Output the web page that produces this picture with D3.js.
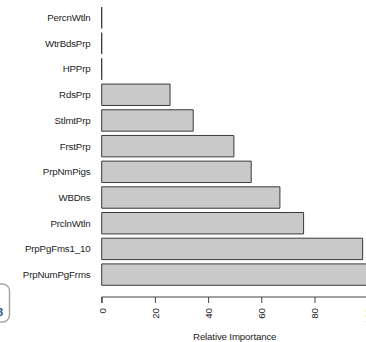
<!DOCTYPE html>
<html lang="en">

<head>
    <meta charset="UTF-8">
    <title>Relative Importance</title>
    <script src="https://cdn.jsdelivr.net/npm/d3@7"></script>
    <style>
        * {
            margin: 0;
        }

        body {
            background: #fff;
            overflow: hidden;
        }

        text {
            font-family: "Liberation Sans", Arial, sans-serif;
        }
    </style>
</head>

<body>
    <div id="chart"></div>
    <script>
        // variables, top to bottom as drawn
        var names = ["PercnWtln", "WtrBdsPrp", "HPPrp", "RdsPrp", "StlmtPrp", "FrstPrp",
            "PrpNmPigs", "WBDns", "PrclnWtln", "PrpPgFms1_10", "PrpNumPgFrms"];
        var importance = [0, 0, 0, 25.7, 34.4, 49.7, 56.2, 67.0, 75.9, 98.1, 100];
        var ticks = [0, 20, 40, 60, 80, 100];

        var w = 366;
        var h = 342;

        var svg = d3.select("#chart")
            .append("svg")
            .attr("width", w)
            .attr("height", h);

        var x = d3.scaleLinear()
            .domain([0, 100])
            .range([101.7, 367.7]);

        // R barplot: width 1, space 0.2
        var y = d3.scaleBand()
            .domain(names)
            .range([7, 285.3])
            .paddingInner(1 / 6)
            .paddingOuter(0);

        // bars (path so zero bars still show their edge)
        svg.selectAll("path.bar")
            .data(names)
            .enter()
            .append("path")
            .attr("class", "bar")
            .attr("d", function (d, i) {
                var x0 = x(0), x1 = x(importance[i]);
                var y0 = y(d), y1 = y(d) + y.bandwidth();
                return "M" + x0 + "," + y0 + "H" + x1 + "V" + y1 + "H" + x0 + "Z";
            })
            .attr("fill", "#c9c9c9")
            .attr("stroke", "#3a3a3a")
            .attr("stroke-width", 1);

        // bar labels
        svg.selectAll("text.name")
            .data(names)
            .enter()
            .append("text")
            .attr("class", "name")
            .attr("x", 90.5)
            .attr("y", function (d) { return y(d) + y.bandwidth() / 2; })
            .attr("dy", "0.35em")
            .attr("text-anchor", "end")
            .attr("font-size", "9.7px")
            .attr("letter-spacing", "-0.15px")
            .attr("fill", "#222")
            .text(function (d) { return d; });

        // x axis
        var axisY = 297;
        var axis = svg.append("g")
            .attr("transform", "translate(0," + axisY + ")")
            .call(d3.axisBottom(x).tickValues(ticks).tickSize(6).tickFormat(d3.format("d")));

        axis.select(".domain")
            .attr("stroke", "#444")
            .attr("d", "M" + x(0) + ",6V0H" + x(100));
        axis.selectAll(".tick line").attr("stroke", "#444");
        axis.selectAll(".tick text")
            .attr("transform", "rotate(-90)")
            .attr("x", -11)
            .attr("y", 0)
            .attr("dy", "0.35em")
            .attr("text-anchor", "end")
            .attr("font-size", "9.7px")
            .attr("font-family", "Liberation Sans, Arial, sans-serif")
            .attr("fill", "#222");

        svg.append("text")
            .attr("x", (x(0) + x(100)) / 2)
            .attr("y", 339.5)
            .attr("text-anchor", "middle")
            .attr("font-size", "9.7px")
            .attr("letter-spacing", "-0.15px")
            .attr("fill", "#222")
            .text("Relative Importance");

        // bit of a window button cut off at the left edge
        svg.append("rect")
            .attr("x", -24)
            .attr("y", 284)
            .attr("width", 33.5)
            .attr("height", 38)
            .attr("rx", 7)
            .attr("fill", "#fff")
            .attr("stroke", "#a8a8a8")
            .attr("stroke-width", 1.5);
        svg.append("text")
            .attr("x", -3)
            .attr("y", 316)
            .attr("font-size", "11px")
            .attr("font-weight", "bold")
            .attr("fill", "#2b4f8a")
            .text("3");
    </script>
</body>

</html>
